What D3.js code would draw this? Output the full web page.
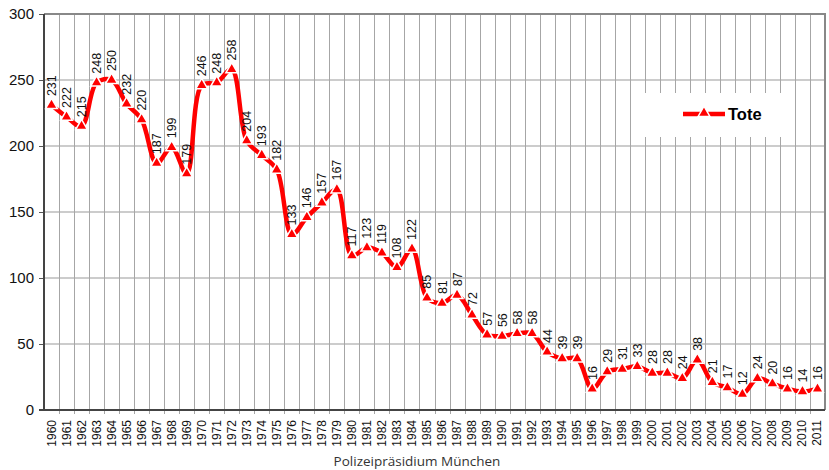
<!DOCTYPE html>
<html>
<head>
<meta charset="utf-8">
<script src="https://cdn.jsdelivr.net/npm/d3@7"></script>
<style>
  body { margin: 0; background: #fff; }
  svg { display: block; }
</style>
</head>
<body>
<div id="chart"></div>
<script>
var years = []
for (var yr = 1960; yr <= 2011; yr++) years.push(String(yr))

var tote = [231, 222, 215, 248, 250, 232, 220, 187, 199, 179,
            246, 248, 258, 204, 193, 182, 133, 146, 157, 167,
            117, 123, 119, 108, 122, 85, 81, 87, 72, 57,
            56, 58, 58, 44, 39, 39, 16, 29, 31, 33,
            28, 28, 24, 38, 21, 17, 12, 24, 20, 16,
            14, 16]

var yTicks = [0, 50, 100, 150, 200, 250, 300]
var seriesName = "Tote"
var sourceLabel = "Polizeipräsidium München"

var W = 829, H = 470
var margin = { top: 14, right: 4, bottom: 60, left: 44 }
var width = W - margin.left - margin.right
var height = H - margin.top - margin.bottom

var svg = d3.select("#chart").append("svg")
    .attr("width", W).attr("height", H)

var g = svg.append("g")
    .attr("transform", "translate(" + margin.left + "," + margin.top + ")")

var x = d3.scaleBand().domain(years).range([0, width])
var y = d3.scaleLinear().domain([0, 300]).range([height, 0])
var cx = function(d, i) { return x(years[i]) + x.bandwidth() / 2 }

// grid lines
g.append("g").selectAll("line")
    .data(yTicks.slice(1))
    .enter().append("line")
    .attr("x1", 0).attr("x2", width)
    .attr("y1", function(d) { return y(d) }).attr("y2", function(d) { return y(d) })
    .attr("stroke", "#999").attr("stroke-width", 1)

g.append("g").selectAll("line")
    .data(years.slice(1))
    .enter().append("line")
    .attr("x1", function(d) { return Math.round(x(d)) + 0.5 })
    .attr("x2", function(d) { return Math.round(x(d)) + 0.5 })
    .attr("y1", 0).attr("y2", height + 4)
    .attr("stroke", "#a6a6a6").attr("stroke-width", 1)

// frame top/right
g.append("path")
    .attr("d", "M0,0H" + width + "V" + height)
    .attr("fill", "none").attr("stroke", "#888").attr("stroke-width", 2)

// y axis
var yAxis = g.append("g")
    .call(d3.axisLeft(y).tickValues(yTicks).tickSize(5).tickPadding(5))
yAxis.select(".domain").remove()
yAxis.selectAll("line").attr("stroke", "#555")
yAxis.selectAll("text")
    .attr("font-family", "Arial, 'Liberation Sans', sans-serif")
    .attr("font-size", 15).attr("fill", "#111")

// x axis labels
g.append("g").selectAll("text")
    .data(years)
    .enter().append("text")
    .attr("transform", function(d, i) {
        return "translate(" + (cx(d, i) + 4) + "," + (height + 10) + ") rotate(-90)"
    })
    .attr("text-anchor", "end")
    .attr("font-family", "Arial, 'Liberation Sans', sans-serif")
    .attr("font-size", 12).attr("fill", "#111")
    .text(function(d) { return d })

// axis lines
g.append("line").attr("x1", 0).attr("x2", 0).attr("y1", 0).attr("y2", height)
    .attr("stroke", "#444").attr("stroke-width", 2)
g.append("line").attr("x1", -5).attr("x2", width).attr("y1", height).attr("y2", height)
    .attr("stroke", "#444").attr("stroke-width", 2)

// legend box
var lg = svg.append("g")
lg.append("rect")
    .attr("x", 645).attr("y", 93).attr("width", 138).attr("height", 44)
    .attr("fill", "#fff")

// series line
var line = d3.line()
    .x(cx)
    .y(function(d) { return y(d) })
    .curve(d3.curveCatmullRom.alpha(0.5))

g.append("path")
    .datum(tote)
    .attr("d", line)
    .attr("fill", "none")
    .attr("stroke", "#ff0000")
    .attr("stroke-width", 4.5)
    .attr("stroke-linejoin", "round")

var tri = d3.symbol().type(d3.symbolTriangle).size(60)

g.append("g").selectAll("path")
    .data(tote)
    .enter().append("path")
    .attr("d", tri)
    .attr("transform", function(d, i) { return "translate(" + cx(d, i) + "," + y(d) + ")" })
    .attr("fill", "#ff0000")
    .attr("stroke", "#fff")
    .attr("stroke-width", 1.5)

// value labels
g.append("g").selectAll("text")
    .data(tote)
    .enter().append("text")
    .attr("transform", function(d, i) {
        return "translate(" + (cx(d, i) + 4.5) + "," + (y(d) - 9) + ") rotate(-90)"
    })
    .attr("text-anchor", "start")
    .attr("font-family", "Arial, 'Liberation Sans', sans-serif")
    .attr("font-size", 12.5).attr("fill", "#111")
    .text(function(d) { return d })

// legend
lg.append("line")
    .attr("x1", 683).attr("x2", 725).attr("y1", 114).attr("y2", 114)
    .attr("stroke", "#ff0000").attr("stroke-width", 4.5)
lg.append("path")
    .attr("d", tri)
    .attr("transform", "translate(704,113)")
    .attr("fill", "#ff0000").attr("stroke", "#fff").attr("stroke-width", 1.5)
lg.append("text")
    .attr("x", 728).attr("y", 120)
    .attr("font-family", "Arial, 'Liberation Sans', sans-serif")
    .attr("font-size", 16.5).attr("font-weight", "bold").attr("fill", "#000")
    .text(seriesName)

// source caption
svg.append("text")
    .attr("x", 417).attr("y", 466)
    .attr("text-anchor", "middle")
    .attr("font-family", "'Open Sans', sans-serif")
    .attr("font-size", 13.5).attr("fill", "#333")
    .text(sourceLabel)
</script>
</body>
</html>
